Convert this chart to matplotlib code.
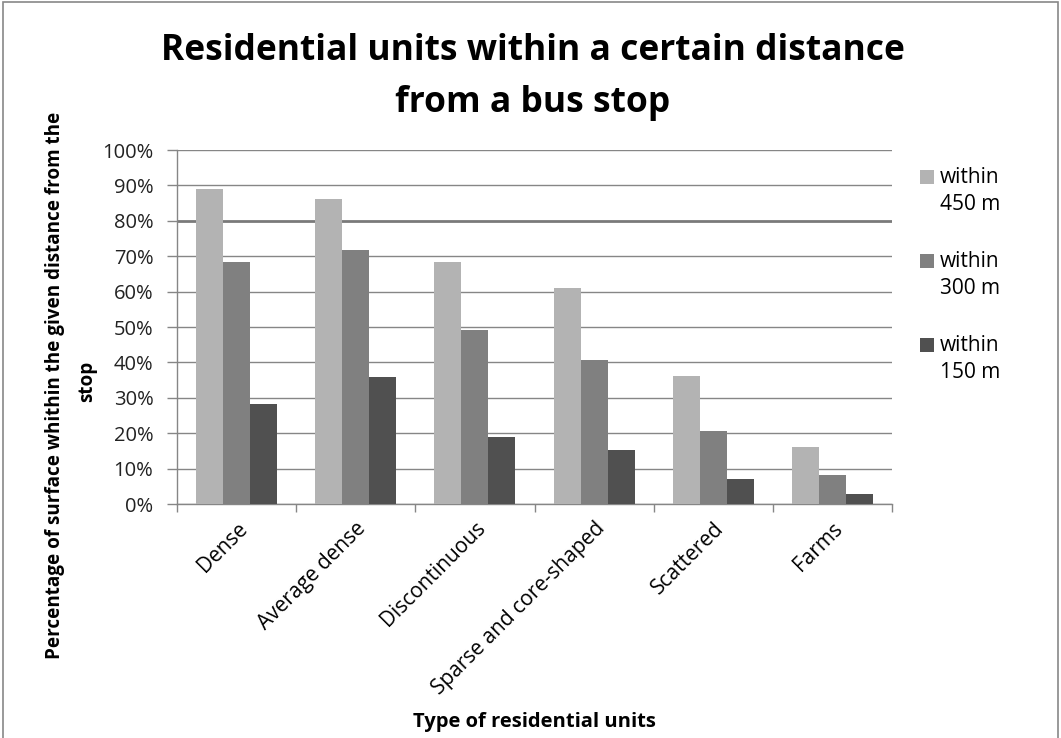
import matplotlib
matplotlib.use("Agg")
import matplotlib.pyplot as plt
import numpy as np
from matplotlib.patches import Rectangle

plt.rcParams['font.family'] = ['Open Sans', 'DejaVu Sans']

# data
categories = ['Dense', 'Average dense', 'Discontinuous', 'Sparse and core-shaped', 'Scattered', 'Farms']
series_labels = ['within\n450 m', 'within\n300 m', 'within\n150 m']
within_450 = [89.1, 86.2, 68.4, 61.0, 36.1, 16.0]
within_300 = [68.4, 71.8, 49.2, 40.7, 20.6, 8.1]
within_150 = [28.2, 35.8, 18.9, 15.2, 7.0, 2.7]
colors = ['#b3b3b3', '#808080', '#505050']

W, H = 1061, 738
fig = plt.figure(figsize=(W / 100, H / 100), dpi=100)
ax = fig.add_axes([177 / W, 1 - 504 / H, (892 - 177) / W, (504 - 150) / H])


def fx(px):
    return px / W


def fy(py):
    return 1 - py / H


x = np.arange(len(categories))
bw = 0.227
for i, (vals, c) in enumerate(zip([within_450, within_300, within_150], colors)):
    ax.bar(x + (i - 1) * bw, vals, width=bw, color=c, zorder=3, label=series_labels[i])

ax.set_xlim(-0.5, len(categories) - 0.5)
ax.set_ylim(0, 100)
ax.set_yticks(np.arange(0, 101, 10))
ax.set_yticklabels([f'{v}%' for v in range(0, 101, 10)], fontsize=14.5, color='#222222')
ax.yaxis.grid(True, color='#868686', linewidth=1.0, zorder=0)
# the 80% line is drawn heavier in the source picture
ax.get_ygridlines()[8].set_linewidth(2.0)
ax.get_ygridlines()[8].set_color('#7a7a7a')

ax.set_xticks(x)
ax.set_xticklabels(categories, rotation=45, ha='right', rotation_mode='anchor', fontsize=15)
ax.tick_params(axis='x', length=0, pad=10)
ax.set_xticks(np.arange(-0.5, len(categories), 1.0), minor=True)
ax.tick_params(axis='x', which='minor', length=6, color='#868686', width=1)
ax.tick_params(axis='y', length=7, color='#868686', width=1, pad=10)

for s in ['top', 'right']:
    ax.spines[s].set_visible(False)
for s in ['left', 'bottom']:
    ax.spines[s].set_color('#868686')
    ax.spines[s].set_linewidth(1)

fig.text(fx(533), fy(60), 'Residential units within a certain distance',
         ha='center', va='baseline', fontsize=25.5, fontweight='bold')
fig.text(fx(533), fy(112), 'from a bus stop',
         ha='center', va='baseline', fontsize=25.5, fontweight='bold')
fig.text(fx(534), fy(727), 'Type of residential units', ha='center', va='baseline',
         fontsize=14.5, fontweight='bold')
fig.text(fx(55), fy(385), 'Percentage of surface whithin the given distance from the',
         ha='center', va='center', rotation=90, fontsize=13.6, fontweight='bold')
fig.text(fx(87), fy(381), 'stop',
         ha='center', va='center', rotation=90, fontsize=13.6, fontweight='bold')

# legend, square aligned with the first text line
for i, (lab, c) in enumerate(zip(series_labels, colors)):
    top = 170 + i * 84
    fig.patches.append(Rectangle((fx(920), fy(top + 14)), 14 / W, 14 / H,
                                 transform=fig.transFigure, facecolor=c, edgecolor='none'))
    line1, line2 = lab.split('\n')
    fig.text(fx(940), fy(top + 13), line1, ha='left', va='baseline', fontsize=15)
    fig.text(fx(940), fy(top + 40), line2, ha='left', va='baseline', fontsize=15)

fig.patches.append(Rectangle((3 / W, -0.01), (1058 - 3) / W, 1 - 2 / H + 0.01,
                             transform=fig.transFigure, fill=False, edgecolor='#888888',
                             linewidth=1.2))

fig.savefig('out.png', dpi=100)
